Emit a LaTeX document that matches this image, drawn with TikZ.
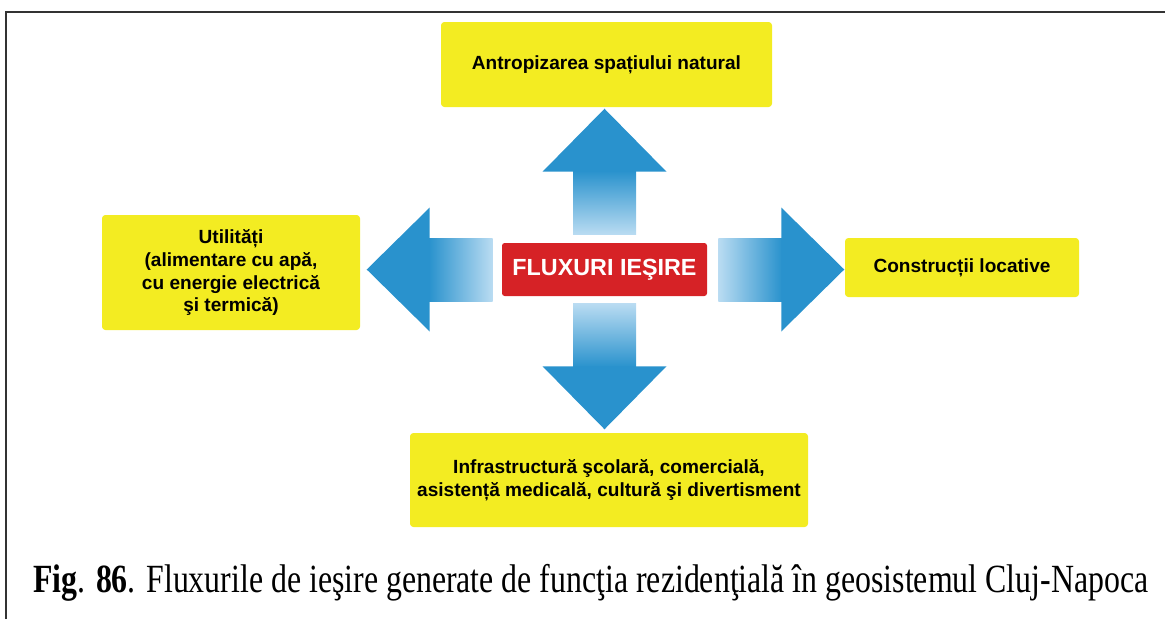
\documentclass[tikz,border=0pt]{standalone}
\usepackage{graphicx}
\usepackage{fontspec}
\setmainfont{Liberation Serif}
\setsansfont{Liberation Sans}
\usetikzlibrary{calc}
\definecolor{boxyellow}{RGB}{243,236,34}
\definecolor{hubred}{RGB}{214,34,38}
\definecolor{flowblue}{RGB}{41,146,205}
\definecolor{flowlight}{RGB}{186,220,242}

\begin{document}
\begin{tikzpicture}[
  x=0.75pt, y=-0.75pt,
  outbox/.style={fill=boxyellow, rounded corners=2.5pt, align=center, inner sep=0pt,
    font=\sffamily\bfseries\fontsize{14.3}{17.2}\selectfont},
  hubbox/.style={fill=hubred, rounded corners=2pt, minimum width=153.75pt, minimum height=39.75pt,
    text=white, font=\sffamily\bfseries\fontsize{17.5}{21}\selectfont}]
  \useasboundingbox (0,0) rectangle (1165,619);
  \draw[line width=1.5pt, black!80] (6,619) -- (6,12) -- (1166,12);

  \node[hubbox] (hub) at (604.5,269.5) {FLUXURI IEŞIRE};
  \node[outbox, minimum width=248.25pt, minimum height=63.75pt] (natural) at (606.5,64.5)
    {Antropizarea spațiului natural};
  \node[outbox, minimum width=193.5pt, minimum height=86.25pt] (utilities) at (231,272.5)
    {Utilități\\(alimentare cu apă,\\cu energie electrică\\şi termică)};
  \node[outbox, minimum width=175.5pt, minimum height=44.25pt] (housing) at (962,267.5)
    {Construcții locative};
  \node[outbox, minimum width=298.5pt, minimum height=70.5pt] (services) at (609,480)
    {Infrastructură şcolară, comercială,\\asistență medicală, cultură şi divertisment};

  \coordinate (r0) at ($(hub.east)+(11,0)$);
  \shade[left color=flowlight, right color=flowblue] ($(r0)+(0,-31.5)$) rectangle ($(r0)+(64,31.5)$);
  \fill[flowblue] ($(r0)+(63,-62)$) -- ($(r0)+(126,0)$) -- ($(r0)+(63,62)$) -- cycle;

  \coordinate (l0) at ($(hub.west)+(-9,0)$);
  \shade[left color=flowblue, right color=flowlight] ($(l0)+(-64,-31.5)$) rectangle ($(l0)+(0,31.5)$);
  \fill[flowblue] ($(l0)+(-63,-62)$) -- ($(l0)+(-126,0)$) -- ($(l0)+(-63,62)$) -- cycle;

  \coordinate (u0) at ($(hub.north)+(0,-8)$);
  \shade[top color=flowblue, bottom color=flowlight] ($(u0)+(-31.5,0)$) rectangle ($(u0)+(31.5,-64)$);
  \fill[flowblue] ($(u0)+(-62,-63)$) -- ($(u0)+(0,-126)$) -- ($(u0)+(62,-63)$) -- cycle;

  \coordinate (d0) at ($(hub.south)+(0,7)$);
  \shade[top color=flowlight, bottom color=flowblue] ($(d0)+(-31.5,0)$) rectangle ($(d0)+(31.5,64)$);
  \fill[flowblue] ($(d0)+(-62,63)$) -- ($(d0)+(0,126)$) -- ($(d0)+(62,63)$) -- cycle;

  \node[anchor=base west, inner sep=0pt, font=\fontsize{30}{36}\selectfont] (caption) at (33,592)
    {\scalebox{0.796}[1]{\textbf{Fig}. \textbf{86}. Fluxurile de ieşire generate de funcţia rezidenţială în geosistemul Cluj-Napoca}};
\end{tikzpicture}
\end{document}
